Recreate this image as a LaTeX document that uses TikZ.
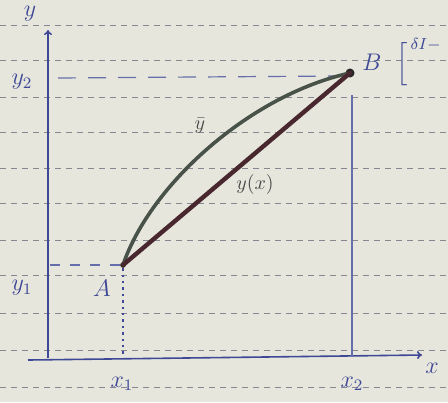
\documentclass[tikz,border=0pt]{standalone}
\usepackage{amsmath,amssymb}
\usepackage{tikz}
\usetikzlibrary{arrows.meta,positioning,calc}
\definecolor{paper}{RGB}{230,230,220}
\definecolor{ink}{RGB}{62,72,150}
\definecolor{rulecol}{RGB}{135,135,145}
\definecolor{curvecol}{RGB}{72,82,72}
\definecolor{linecol}{RGB}{72,40,46}
\tikzset{
  ruled/.style={rulecol,line width=0.5pt,dash pattern=on 3pt off 2.5pt},
  axisline/.style={ink,line width=0.8pt},
  tip/.style={-{To[length=2.5pt,width=4pt]}},
  guide/.style={ink!80,line width=0.6pt,dash pattern=on 9pt off 6pt},
  dotline/.style={ink,line width=0.8pt,dash pattern=on 1.2pt off 2pt},
  pathline/.style={linecol,line width=2.2pt,line cap=round},
  pathcurve/.style={curvecol,line width=1.8pt,line cap=round},
  pont/.style={circle,fill=black!85,inner sep=1.6pt},
  lbl/.style={ink,font=\large},
  glbl/.style={black!70,font=\normalsize},
}
\begin{document}
\begin{tikzpicture}[x=0.5pt,y=-0.5pt]
  \useasboundingbox[fill=paper] (0,0) rectangle (448,402);
  % vonalas papir
  \foreach \y in {25,60,97,132,168,203,240,275,313,350,387}
    \draw[ruled] (0,\y) -- (448,\y);
  % tengelyek
  \coordinate (xs) at (28,360);
  \coordinate (xe) at (422,355);
  \coordinate (ys) at (48,358);
  \coordinate (ye) at (48,30);
  \draw[axisline,tip] (xs) -- (xe);
  \draw[axisline,tip] (ys) -- (ye);
  \node[lbl] (ylab) at (30,14) {$y$};
  \node[lbl] (xlab) at (432,368) {$x$};
  % vegpontok
  \node[pont,inner sep=1pt] (A) at (123,265) {};
  \node[pont] (B) at (350,73) {};
  \node[lbl] (Alab) at (102,288) {$A$};
  \node[lbl] (Blab) at (372,62) {$B$};
  \node[lbl,anchor=west,inner sep=0pt] (cut) at (396,62) {$\Big[^{\,\delta I-}$};
  % segedvonalak
  \coordinate (y2a) at (58,78);
  \coordinate (y2b) at (335,76);
  \draw[guide] (y2a) -- (y2b);
  \coordinate (y1a) at (50,265);
  \draw[guide,dash pattern=on 5pt off 5pt] (y1a) -- (A);
  \coordinate (x1a) at (123,357);
  \draw[dotline] (A) -- (x1a);
  \coordinate (x2a) at (352,95);
  \coordinate (x2b) at (352,357);
  \draw[ink!80,line width=0.6pt] (x2a) -- (x2b);
  \node[lbl] (y2lab) at (22,82) {$y_2$};
  \node[lbl] (y1lab) at (22,288) {$y_1$};
  \node[lbl] (x1lab) at (122,384) {$x_1$};
  \node[lbl] (x2lab) at (352,384) {$x_2$};
  % gorbek
  \draw[pathcurve] (A.center) .. controls (150,185) and (250,95) .. (B.center);
  \draw[pathline] (A.center) -- (B.center);
  \node[glbl] (ybar) at (200,126) {$\bar{y}$};
  \node[glbl] (yx) at (255,184) {$y(x)$};
\end{tikzpicture}
\end{document}
